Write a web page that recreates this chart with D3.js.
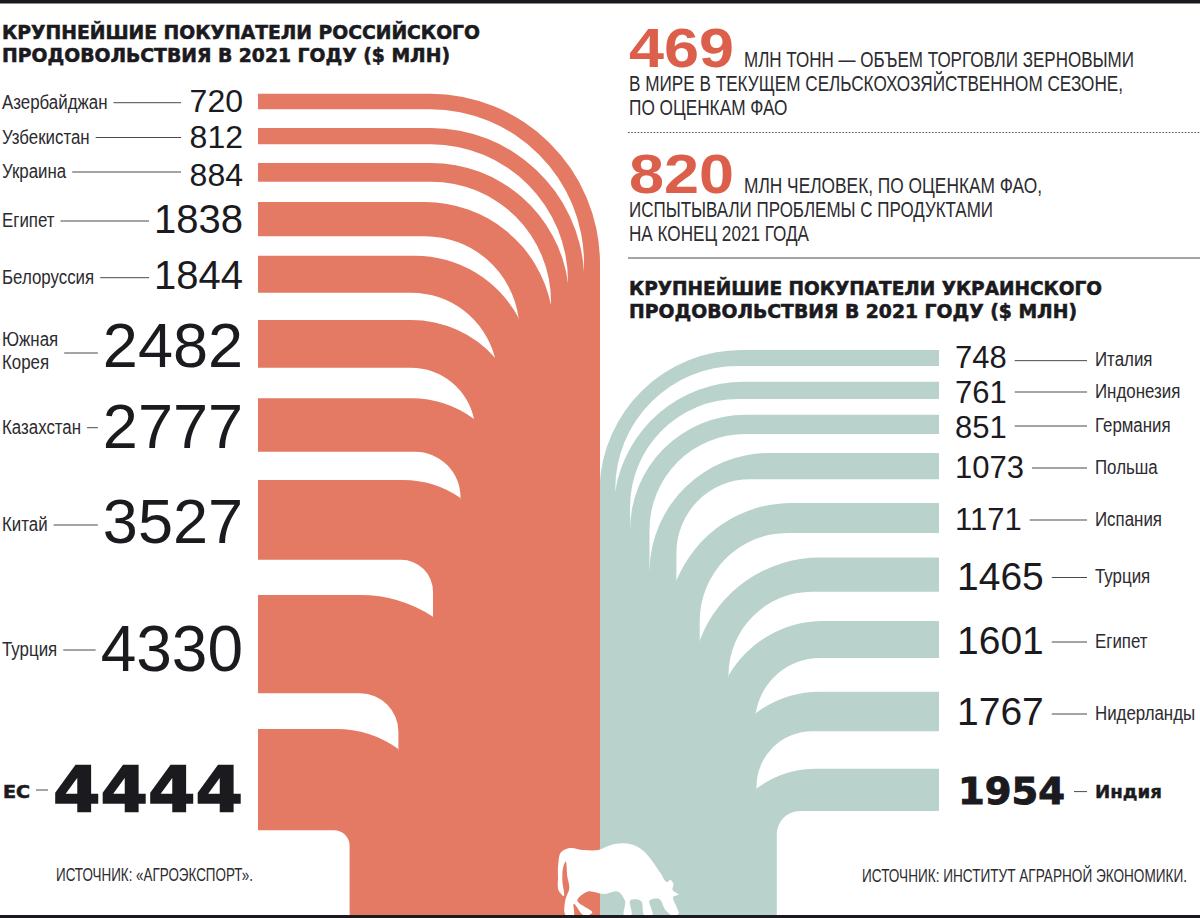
<!DOCTYPE html>
<html>
<head>
<meta charset="utf-8">
<script src="https://d3js.org/d3.v7.min.js"></script>
<style>
  html, body { margin: 0; padding: 0; background: #fff; }
  svg { display: block; }
  text { fill: #1b1a1e; font-family: "Liberation Sans", sans-serif; }
  .narrow { fill: #2c2b2f; }
  .heavy { font-family: "DejaVu Sans", sans-serif; font-weight: bold; }
</style>
</head>
<body>
<svg id="chart" width="1200" height="918"></svg>
<script>
// russian food buyers, top to bottom
var ruNames = ["Азербайджан", "Узбекистан", "Украина", "Египет", "Белоруссия", "Южная Корея", "Казахстан", "Китай", "Турция", "ЕС"];
var ruValues = [720, 812, 884, 1838, 1844, 2482, 2777, 3527, 4330, 4444];

// ukrainian food buyers, top to bottom
var uaNames = ["Италия", "Индонезия", "Германия", "Польша", "Испания", "Турция", "Египет", "Нидерланды", "Индия"];
var uaValues = [748, 761, 851, 1073, 1171, 1465, 1601, 1767, 1954];

var ruTitle = ["КРУПНЕЙШИЕ ПОКУПАТЕЛИ РОССИЙСКОГО", "ПРОДОВОЛЬСТВИЯ В 2021 ГОДУ ($ МЛН)"];
var uaTitle = ["КРУПНЕЙШИЕ ПОКУПАТЕЛИ УКРАИНСКОГО", "ПРОДОВОЛЬСТВИЯ В 2021 ГОДУ ($ МЛН)"];
var fact1 = ["МЛН ТОНН — ОБЪЕМ ТОРГОВЛИ ЗЕРНОВЫМИ", "В МИРЕ В ТЕКУЩЕМ СЕЛЬСКОХОЗЯЙСТВЕННОМ СЕЗОНЕ,", "ПО ОЦЕНКАМ ФАО"];
var fact2 = ["МЛН ЧЕЛОВЕК, ПО ОЦЕНКАМ ФАО,", "ИСПЫТЫВАЛИ ПРОБЛЕМЫ С ПРОДУКТАМИ", "НА КОНЕЦ 2021 ГОДА"];

var RED = "#e57a64", TEAL = "#b9d3cc", INK = "#1b1a1e";
var BOTTOM = 915;
var NARROW = 0.865; // labels are a condensed face in the original
var svg = d3.select("#chart");

// the thickness of a band does not follow the value linearly in the original,
// so these are piecewise scales
var ru = {
  values: ruValues,
  names: ruNames,
  x0: 258, sweep: 1, dir: 1, startY: 93.7,
  thick: d3.scaleLinear().domain(ruValues).range([15.6, 16.3, 18.7, 34.3, 37, 47.7, 53.4, 79.7, 98.3, 101.3]),
  gap: d3.scaleLinear().domain(d3.range(9)).range([18.7, 18.7, 20.3, 19.4, 27.3, 30.6, 28.3, 35.3, 35.7]),
  bendTop: d3.scaleLinear().domain(d3.range(10)).range([430, 431, 431, 425, 415, 411, 411, 403, 360, 336]),
  bendBot: d3.scaleLinear().domain(d3.range(10)).range([430, 431, 431, 425, 411, 411, 415, 401, 360, 334]),
  cuspX: [600, 584, 568, 551, 518.6, 495, 474, 460.5, 433, 398.4, 349.6],
  cuspY: [262, 272, 283, 305, 318, 357.7, 419, 498, 616.7, 749, 847],
  color: RED
};
var ua = {
  values: uaValues,
  names: uaNames,
  x0: 939, sweep: 0, dir: -1, startY: 349.9,
  thick: d3.scaleLinear().domain(uaValues).range([16.1, 17.3, 19.2, 26.2, 30, 34.1, 37, 39.4, 42.3]),
  gap: d3.scaleLinear().domain(d3.range(8)).range([15.7, 15.7, 19.1, 23.7, 24.7, 29.3, 33.8, 37.5]),
  bendTop: d3.scaleLinear().domain(d3.range(9)).range([741.8, 743.7, 745.6, 769, 792, 819.6, 823, 820, 816]),
  bendBot: d3.scaleLinear().domain(d3.range(9)).range([738, 738, 745.6, 750, 788, 812, 820, 812, 800]),
  cuspX: [599.5, 615.3, 630, 649.5, 676.4, 699.7, 728.5, 755.8, 756.5, 776.8],
  cuspY: [487, 491, 532.5, 568.9, 580.5, 640.5, 675.7, 713.2, 788.6, 836.2],
  color: TEAL
};

// forward: horizontal tangent at (bx,y), ending at the cusp
function edgeTo(bx, y, cx, cy, sweep) {
  var dx = Math.abs(cx - bx), dy = cy - y;
  if (dy >= dx) return "A" + dx + "," + dx + " 0 0 " + sweep + " " + cx + "," + (y + dx) + "L" + cx + "," + cy;
  var r = (dx * dx + dy * dy) / (2 * dy);
  return "A" + r + "," + r + " 0 0 " + sweep + " " + cx + "," + cy;
}
// same edge walked from the cusp back to the bend
function edgeBack(bx, y, cx, cy, sweep) {
  var dx = Math.abs(cx - bx), dy = cy - y;
  if (dy >= dx) return "L" + cx + "," + (y + dx) + "A" + dx + "," + dx + " 0 0 " + (1 - sweep) + " " + bx + "," + y;
  var r = (dx * dx + dy * dy) / (2 * dy);
  return "A" + r + "," + r + " 0 0 " + (1 - sweep) + " " + bx + "," + y;
}

function layout(side) {
  var y = side.startY;
  side.rows = side.values.map(function(v, i) {
    var h = side.thick(v);
    var row = { i: i, value: v, name: side.names[i], top: y, bot: y + h, mid: y + h / 2 };
    y += h + (i < side.values.length - 1 ? side.gap(i) : 0);
    return row;
  });
}

function drawBands(side) {
  svg.append("g").selectAll("path")
    .data(side.rows)
    .enter().append("path")
    .attr("fill", side.color)
    .attr("d", function(d) {
      var i = d.i, s = side.sweep;
      var px = side.cuspX[i], py = side.cuspY[i], nx = side.cuspX[i + 1], ny = side.cuspY[i + 1];
      var bt = side.bendTop(i), bb = side.bendBot(i);
      // overlap the previous band by a little so no seam shows in the trunk
      var over = i > 0 ? "L" + (px + side.dir * 2) + "," + (py + 10) + "L" + (px + side.dir * 2) + "," + BOTTOM : "L" + px + "," + BOTTOM;
      return "M" + side.x0 + "," + d.top + "L" + bt + "," + d.top +
        edgeTo(bt, d.top, px, py, s) + over +
        "L" + nx + "," + BOTTOM + "L" + nx + "," + ny +
        edgeBack(bb, d.bot, nx, ny, s) +
        "L" + side.x0 + "," + d.bot + "Z";
    });
}

layout(ru);
layout(ua);
drawBands(ua);
drawBands(ru);

// cow silhouette, traced outline
var cowOutline = [[88,215],[84,170],[85,130],[93,97],[115,85],[160,90],[205,90],[250,73],[300,72],[340,92],[368,125],[392,160],[413,186],[420,180],[430,190],[428,210],[445,224],[431,229],[440,262],[446,281],[430,287],[408,272],[386,236],[360,240],[366,287],[345,287],[332,242],[302,240],[302,287],[284,287],[285,242],[265,215],[220,222],[172,215],[142,240],[186,280],[166,288],[131,252],[130,288],[110,288],[106,240],[118,205],[112,170],[106,125],[100,140],[97,180],[100,228]];
var cowX = d3.scaleLinear().domain([0, 510]).range([530, 700]);
var cowY = d3.scaleLinear().domain([0, 294]).range([820, 918]);
svg.append("path")
  .attr("fill", "#fff")
  .attr("d", d3.line().x(function(d) { return cowX(d[0]); }).y(function(d) { return cowY(d[1]); })
    .curve(d3.curveCatmullRomClosed.alpha(1))(cowOutline));

// number size steps with the value
var ruFont = d3.scaleThreshold().domain([1000, 2000, 4000]).range([32, 40, 63, 64]);
var uaFont = d3.scaleThreshold().domain([1400]).range([31, 39]);
var ruNudge = [-1, 0, 2, 0, 0, 1, 0, 1, 4, 8];
var uaNudge = [-1.5, 2, 2.5, 1, 1, 1.5, 0.5, 0, 0.5];
// where the leader sits relative to the middle of its band
var ruLeader = [1.2, 1.35, -0.35, 1.85, 3.5, 9.15, 2.7, 5.15, 5.85, 10.35];
var uaLeader = [2.7, 1.65, 1.7, 1.9, 2.1, 2.85, 2.5, 2.5, 1.75];

function line(x1, x2, y) {
  svg.append("line").attr("x1", x1).attr("x2", x2).attr("y1", y).attr("y2", y)
    .attr("stroke", "#4a494d").attr("stroke-width", 1);
}

// condensed label, returns its right end
function label(x, y, name) {
  var t = svg.append("text").attr("class", "narrow").attr("x", x).attr("y", y).attr("font-size", 19.5).text(name);
  var w = t.node().getComputedTextLength() * NARROW;
  t.attr("textLength", w).attr("lengthAdjust", "spacingAndGlyphs");
  return x + w;
}

// left column: label, leader, number
ru.rows.forEach(function(d) {
  var last = d.i === ru.rows.length - 1;
  var size = ruFont(d.value);
  var cy = d.mid + ruNudge[d.i];
  var ly = d.mid + ruLeader[d.i];
  var num = svg.append("text")
    .attr("x", 243).attr("y", cy + size * 0.358)
    .attr("text-anchor", "end")
    .attr("font-size", last ? 62 : size)
    .text(d.value);
  var numLeft = 243 - num.node().getComputedTextLength();
  if (last) {
    num.attr("class", "heavy").attr("textLength", 190).attr("lengthAdjust", "spacingAndGlyphs")
      .style("stroke", INK).style("stroke-width", 1.6);
    numLeft = 53;
  }
  var end;
  if (last) {
    svg.append("text").attr("class", "heavy").attr("x", 3).attr("y", ly + 7.5).attr("font-size", 17)
      .attr("textLength", 27).attr("lengthAdjust", "spacingAndGlyphs")
      .style("stroke", INK).style("stroke-width", 0.6)
      .text(d.name);
    end = 30;
  } else if (d.name === "Южная Корея") {
    var parts = d.name.split(" ");
    end = Math.max(label(2, ly - 7, parts[0]), label(2, ly + 15.7, parts[1]));
  } else {
    end = label(2, ly + 6, d.name);
  }
  line(end + 6, Math.min(numLeft - 5, 181), ly);
});

// right column: number, leader, label
ua.rows.forEach(function(d) {
  var last = d.i === ua.rows.length - 1;
  var size = uaFont(d.value);
  var cy = d.mid + uaNudge[d.i];
  var ly = d.mid + uaLeader[d.i];
  var nx = d.value > 1400 ? 957 : 955;
  var num = svg.append("text")
    .attr("x", nx).attr("y", cy + size * 0.358)
    .attr("font-size", last ? 38 : size)
    .text(d.value);
  var numEnd = nx + num.node().getComputedTextLength();
  if (last) {
    num.attr("class", "heavy").attr("x", 958).attr("textLength", 107).attr("lengthAdjust", "spacingAndGlyphs")
      .style("stroke", INK).style("stroke-width", 1);
    svg.append("text").attr("class", "heavy").attr("x", 1095).attr("y", ly + 6).attr("font-size", 18)
      .attr("textLength", 67).attr("lengthAdjust", "spacingAndGlyphs")
      .style("stroke", INK).style("stroke-width", 0.4)
      .text(d.name);
    line(1074, 1087, ly);
  } else {
    label(1095, ly + 5.5, d.name);
    line(numEnd + 8, 1087, ly);
  }
});

// titles
function title(lines, x, y0, widths) {
  lines.forEach(function(t, i) {
    svg.append("text").attr("class", "heavy")
      .attr("x", x).attr("y", y0 + i * 23.5)
      .attr("font-size", 20)
      .attr("textLength", widths[i]).attr("lengthAdjust", "spacingAndGlyphs")
      .style("stroke", INK).style("stroke-width", 0.6)
      .text(t);
  });
}
title(ruTitle, 2, 38.5, [478, 448]);
title(uaTitle, 629, 294.5, [473, 448]);

// red facts block
function fact(number, lines, y0, widths) {
  svg.append("text")
    .attr("x", 629).attr("y", y0)
    .attr("font-size", 56).attr("font-weight", "bold")
    .attr("textLength", 105).attr("lengthAdjust", "spacingAndGlyphs")
    .style("fill", "#db5f4a")
    .text(number);
  lines.forEach(function(t, i) {
    svg.append("text").attr("class", "narrow")
      .attr("x", i === 0 ? 744 : 629).attr("y", y0 + i * 24.2)
      .attr("font-size", 22)
      .attr("textLength", widths[i]).attr("lengthAdjust", "spacingAndGlyphs")
      .text(t);
  });
}
fact("469", fact1, 67, [390, 494, 158.5]);
fact("820", fact2, 192.7, [298, 364, 180]);

svg.append("line").attr("x1", 628).attr("x2", 1200).attr("y1", 132.5).attr("y2", 132.5)
  .attr("stroke", "#555").attr("stroke-width", 1.2).attr("stroke-dasharray", "1.6 1.6");
line(628, 1200, 258);

// sources
svg.append("text").attr("class", "narrow").attr("x", 56).attr("y", 881).attr("font-size", 18)
  .attr("textLength", 197).attr("lengthAdjust", "spacingAndGlyphs").text("ИСТОЧНИК: «АГРОЭКСПОРТ».");
svg.append("text").attr("class", "narrow").attr("x", 862).attr("y", 882).attr("font-size", 18)
  .attr("textLength", 325).attr("lengthAdjust", "spacingAndGlyphs").text("ИСТОЧНИК: ИНСТИТУТ АГРАРНОЙ ЭКОНОМИКИ.");

// top and bottom rules
svg.append("rect").attr("x", 0).attr("y", 0).attr("width", 1200).attr("height", 3.5).attr("fill", INK);
svg.append("rect").attr("x", 0).attr("y", BOTTOM).attr("width", 1200).attr("height", 3).attr("fill", INK);
</script>
</body>
</html>
